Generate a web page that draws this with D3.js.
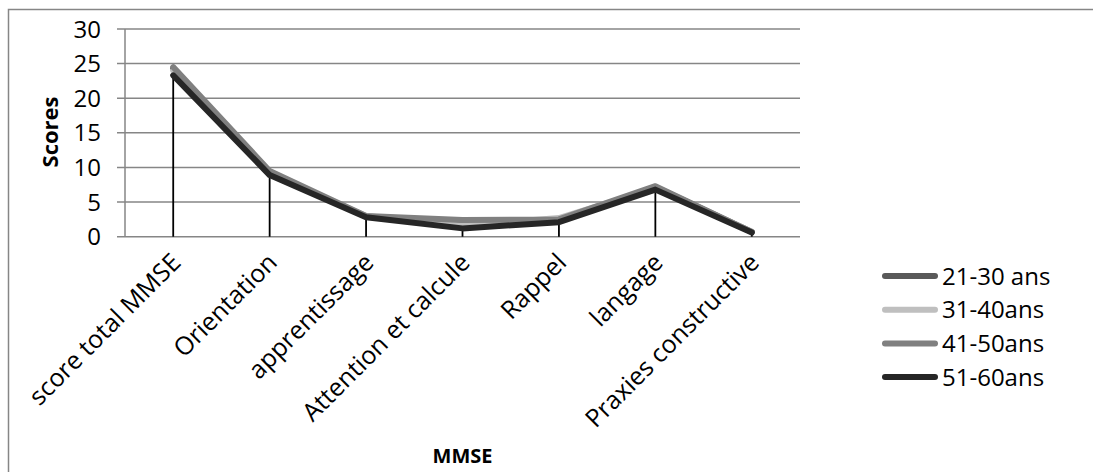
<!DOCTYPE html>
<html><head><meta charset="utf-8">
<script src="https://cdn.jsdelivr.net/npm/d3@7"></script>
<style>body{margin:0;background:#fff}svg{display:block}text{font-family:"Open Sans",sans-serif;fill:#000}</style>
</head><body><svg id="c" width="1093" height="472"></svg>
<script>
const categories = ["score total MMSE","Orientation","apprentissage","Attention et calcule","Rappel","langage","Praxies constructive"];
const seriesNames = ["21-30 ans","31-40ans","41-50ans","51-60ans"];
const s2130 = [24.3, 9.3, 2.9, 2.0, 2.3, 7.2, 0.7];
const s3140 = [24.0, 9.0, 3.0, 1.6, 2.7, 7.0, 0.7];
const s4150 = [24.5, 9.5, 3.0, 2.4, 2.5, 7.3, 0.7];
const s5160 = [23.3, 8.9, 2.8, 1.2, 2.1, 6.8, 0.6];
const yTicks = [0,5,10,15,20,25,30];
const colors = ["#595959","#bfbfbf","#808080","#262626"];
const series = [s2130,s3140,s4150,s5160];

const svg = d3.select("#c");
const L=125,R=800,T=29,B=236.7;
const x = d3.scaleBand().domain(categories).range([L,R]);
const y = d3.scaleLinear().domain([0,30]).range([B,T]);

svg.append("rect").attr("x",8.5).attr("y",9.5).attr("width",1200).attr("height",600)
  .attr("fill","none").attr("stroke","#868686").attr("stroke-width",1.5);

svg.append("g").selectAll("line").data(yTicks).join("line")
  .attr("x1",L-8).attr("x2",R).attr("y1",d=>y(d)).attr("y2",d=>y(d))
  .attr("stroke","#868686").attr("stroke-width",1.5);
svg.append("line").attr("x1",L).attr("x2",L).attr("y1",T).attr("y2",B)
  .attr("stroke","#868686").attr("stroke-width",1.5);

svg.append("g").selectAll("text").data(yTicks).join("text")
  .attr("x",101).attr("y",d=>y(d)).attr("dy","0.36em").attr("text-anchor","end")
  .attr("font-size",24).text(d=>d);

const cx = c => x(c)+x.bandwidth()/2;
svg.append("g").selectAll("line").data(categories).join("line")
  .attr("x1",cx).attr("x2",cx)
  .attr("y1",(c,i)=>y(s5160[i])).attr("y2",B)
  .attr("stroke","#000").attr("stroke-width",1.8);

const line = d3.line().x((d,i)=>cx(categories[i])).y(d=>y(d));
series.forEach((s,k)=>{
  svg.append("path").datum(s).attr("d",line).attr("fill","none")
    .attr("stroke",colors[k]).attr("stroke-width",6)
    .attr("stroke-linejoin","round").attr("stroke-linecap","round");
});

svg.append("g").selectAll("text").data(categories).join("text")
  .attr("transform",c=>`translate(${cx(c)+9},${264}) rotate(-45)`)
  .attr("text-anchor","end").attr("font-size",25).text(c=>c);

svg.append("text").attr("x",(L+R)/2).attr("y",463).attr("text-anchor","middle")
  .attr("font-size",20).attr("font-weight","bold").text("MMSE");
svg.append("text").attr("transform",`translate(58,132) rotate(-90)`).attr("text-anchor","middle")
  .attr("font-size",22).attr("font-weight","bold").text("Scores");

const lg = svg.append("g").selectAll("g").data(seriesNames).join("g")
  .attr("transform",(d,i)=>`translate(0,${276+i*33.7})`);
lg.append("line").attr("x1",885).attr("x2",935).attr("stroke",(d,i)=>colors[i])
  .attr("stroke-width",6).attr("stroke-linecap","round");
lg.append("text").attr("x",942).attr("dy","0.36em").attr("font-size",24).text(d=>d);
</script></body></html>
